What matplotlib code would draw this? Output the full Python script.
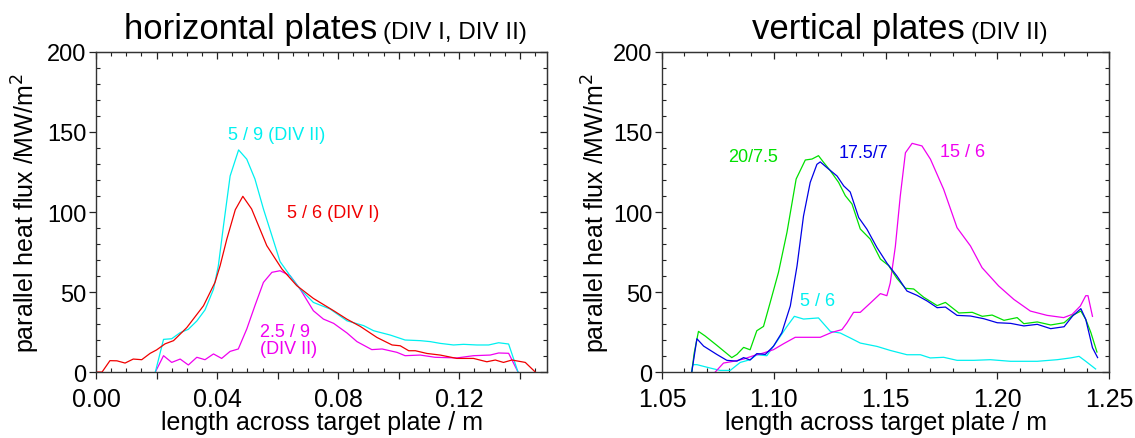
import matplotlib
matplotlib.use("Agg")
import matplotlib.pyplot as plt
from matplotlib.ticker import MultipleLocator, FixedLocator, FuncFormatter
import numpy as np

plt.rcParams['font.family'] = ['Liberation Sans', 'DejaVu Sans']

# ---------------- left panel: horizontal plates ----------------
h_red_x = [0.0, 0.002, 0.0046, 0.0069, 0.0096, 0.0123, 0.0151, 0.0179, 0.020, 0.0228, 0.0256,
           0.030, 0.0355, 0.0393, 0.041, 0.0432, 0.046, 0.0485, 0.0514, 0.0564, 0.0614, 0.0663,
           0.0718, 0.0785, 0.0829, 0.0873, 0.0928, 0.0978, 0.1005, 0.1033, 0.1055, 0.1093,
           0.1137, 0.1192, 0.1247, 0.1291, 0.1319, 0.1346, 0.1374, 0.1418, 0.1451]
h_red_y = [0, 0, 7.1, 7.0, 5.6, 8.1, 7.7, 11.7, 13.8, 17.6, 19.6,
           27.8, 41.4, 56, 66.5, 83, 101.4, 109.8, 101.9, 79, 64.4, 54,
           46, 38.3, 33, 28.5, 21.6, 16.9, 16.4, 13.3, 13.3, 11.6,
           10.6, 8.5, 8.5, 6.4, 7.5, 6.0, 7.5, 6.0, 0]

h_cyan_x = [0.0196, 0.0223, 0.025, 0.0278, 0.0305, 0.0333, 0.036, 0.0388, 0.0404, 0.0421, 0.0443,
            0.0471, 0.0498, 0.0525, 0.0553, 0.0581, 0.0608, 0.0641, 0.0674, 0.0718, 0.0773,
            0.0829, 0.0884, 0.0917, 0.0972, 0.1021, 0.1071, 0.1104, 0.1137, 0.1181, 0.1214,
            0.1258, 0.1297, 0.133, 0.1363, 0.1394]
h_cyan_y = [0, 20.4, 20.8, 24.6, 26.7, 31.9, 38.8, 51.7, 66.3, 91.3, 122.5,
            138.8, 133, 120.6, 101.9, 85.2, 69, 60.2, 51.9, 43.5, 39.4,
            32, 29, 25.8, 23.1, 20, 19.6, 19, 17.9, 16.9, 17.3,
            16.9, 16.9, 18.3, 17.5, 0]

h_mag_x = [0.0196, 0.0223, 0.025, 0.0278, 0.0305, 0.0333, 0.036, 0.0388, 0.0415, 0.0443, 0.047,
           0.0498, 0.0525, 0.0553, 0.0581, 0.0608, 0.0641, 0.0674, 0.0718, 0.0751, 0.0785,
           0.0829, 0.0862, 0.0911, 0.0945, 0.0994, 0.1021, 0.1071, 0.112, 0.1192, 0.1247,
           0.1302, 0.133, 0.1363, 0.1394]
h_mag_y = [0, 10.2, 6.0, 8.1, 4.4, 9.2, 7.7, 11.3, 8.5, 12.9, 14.4,
           26.9, 41.5, 56, 62.3, 63.3, 60.2, 51.9, 38.3, 33.1, 30.4,
           24.4, 19, 14, 14.4, 12.3, 10.2, 10.6, 9.2, 8.8, 10.2,
           10.6, 11.9, 11.7, 0]

# ---------------- right panel: vertical plates ----------------
v_green_x = [1.0633, 1.0644, 1.0663, 1.0693, 1.0745, 1.0812, 1.0835, 1.0865, 1.0894, 1.0924, 1.0954,
             1.0984, 1.1021, 1.1059, 1.110, 1.1141, 1.1171, 1.120, 1.1223, 1.1253, 1.129, 1.132,
             1.135, 1.1387, 1.1432, 1.1477, 1.1514, 1.1551, 1.1589, 1.1626, 1.1671, 1.1731,
             1.1768, 1.1828, 1.1888, 1.1933, 1.1977, 1.2030, 1.2089, 1.2119, 1.2179, 1.2239,
             1.2299, 1.2337, 1.2374, 1.2396, 1.2419, 1.2446]
v_green_y = [0, 12, 25.4, 22.5, 16.7, 9, 11, 15.4, 13.9, 25.8, 28.5,
             43.5, 62.3, 87.3, 120.6, 132.5, 133.1, 135.2, 131, 125.8, 118.5, 110.2,
             105, 89.4, 83, 70.6, 66.5, 58.5, 52.3, 51.9, 46.7, 41.5,
             43.5, 36.9, 37.3, 34.8, 35.6, 32.3, 34, 30.2, 31.3, 29.4,
             30.8, 35.4, 38.1, 32.9, 24.6, 12.5]

v_blue_x = [1.0633, 1.0656, 1.0686, 1.0745, 1.079, 1.0835, 1.0865, 1.0894, 1.0924, 1.0962, 1.0999,
            1.1036, 1.1074, 1.1104, 1.1133, 1.1163, 1.1193, 1.1208, 1.1238, 1.1283, 1.1313,
            1.1342, 1.1380, 1.1417, 1.1462, 1.1507, 1.1551, 1.1596, 1.1641, 1.1686, 1.1731,
            1.1768, 1.1820, 1.1880, 1.1940, 1.2000, 1.2060, 1.2119, 1.2179, 1.2239, 1.2299,
            1.2337, 1.2374, 1.2396, 1.2426, 1.2449]
v_blue_y = [0, 20.8, 16.2, 11, 7.3, 6.8, 9, 7.5, 11.5, 11, 16.2,
            24.6, 41.3, 66.3, 97.5, 118.5, 129.8, 131.3, 127.7, 122.5, 116.3,
            112.5, 96.5, 89.2, 77.7, 67.9, 60, 50.6, 47.9, 44.4, 40.2,
            40.6, 35.4, 35, 33.3, 30.8, 30.4, 28.8, 29.8, 27.1, 28.3,
            35, 39.6, 32.9, 15.2, 9]

v_mag_x = [1.0738, 1.0775, 1.082, 1.0865, 1.0909, 1.0954, 1.0999, 1.1044, 1.1096, 1.1148, 1.1208,
           1.126, 1.1305, 1.1327, 1.1357, 1.1387, 1.1432, 1.1477, 1.1506, 1.1521, 1.1544,
           1.1566, 1.1589, 1.1619, 1.1663, 1.1701, 1.176, 1.182, 1.188, 1.1932, 1.2006,
           1.2074, 1.2148, 1.2223, 1.2297, 1.2335, 1.2372, 1.2396, 1.2406, 1.2426]
v_mag_y = [0, 5.6, 6.7, 8.1, 10.2, 11.9, 14, 17.7, 21.7, 21.7, 21.7,
           24.8, 26.5, 30.6, 37.3, 37.3, 43.1, 49, 47.7, 55.6, 78.5,
           110, 137, 142.9, 141.3, 133, 114.2, 90.2, 78.8, 65.2, 53.8,
           45.4, 38.1, 35.4, 34, 36, 41.3, 47.7, 47.7, 34.8]

v_cyan_x = [1.0633, 1.0637, 1.0656, 1.0715, 1.076, 1.0805, 1.085, 1.0894, 1.0924, 1.0969, 1.1014,
            1.1059, 1.1092, 1.1133, 1.120, 1.1253, 1.1297, 1.1342, 1.1387, 1.1462, 1.1521,
            1.1596, 1.1656, 1.170, 1.176, 1.182, 1.1895, 1.1969, 1.2059, 1.2179, 1.2268,
            1.2328, 1.2366, 1.2396, 1.2440]
v_cyan_y = [0, 4.6, 4.6, 2.5, 1.0, 1.0, 6, 7.7, 10.8, 10.2, 19.2,
            28.5, 34.8, 33.1, 33.8, 25.4, 24.4, 21.3, 18.1, 16, 13.5,
            10.8, 10.8, 8.8, 9.2, 7.3, 7.3, 7.7, 6.7, 6.7, 7.7,
            8.8, 9.8, 6.7, 1.9]

# colours
C_CYAN = '#00F0F0'
C_RED = '#F00000'
C_MAG = '#F000F0'
C_GREEN = '#00E000'
C_BLUE = '#0000E6'

LW = 0.9
ylabel_text = 'parallel heat flux /MW/m$^2$'
xlabel_text = 'length across target plate / m'

fig = plt.figure(figsize=(11.35, 4.39), dpi=100)
axL = fig.add_axes([0.0846, 0.1503, 0.3974, 0.729])
axR = fig.add_axes([0.5833, 0.1503, 0.3938, 0.729])


def style_axes(ax, xmin, xmax, xmajor, xminor, xlabfmt):
    ax.set_ylim(0, 200)
    ax.set_xlim(xmin, xmax)
    ax.yaxis.set_major_locator(MultipleLocator(50))
    ax.yaxis.set_minor_locator(MultipleLocator(10))
    ax.xaxis.set_major_locator(FixedLocator(xmajor))
    ax.xaxis.set_minor_locator(MultipleLocator(xminor))
    ax.xaxis.set_major_formatter(FuncFormatter(xlabfmt))
    ax.tick_params(which='major', direction='out', length=5, width=0.9,
                   labelsize=17, pad=2, colors='#222222', labelcolor='black')
    ax.tick_params(which='minor', direction='in', length=3, width=0.8, colors='#222222')
    ax.tick_params(axis='x', which='major', labelsize=18, pad=6)
    for s in ax.spines.values():
        s.set_color('#333333')
        s.set_linewidth(1.0)
    # top and right ticks (inward)
    sx = ax.secondary_xaxis('top')
    sx.xaxis.set_major_locator(FixedLocator(xmajor))
    sx.xaxis.set_minor_locator(MultipleLocator(xminor))
    sx.tick_params(which='major', direction='in', length=5, width=0.9, labeltop=False, colors='#222222')
    sx.tick_params(which='minor', direction='in', length=3, width=0.8, colors='#222222')
    sx.spines['top'].set_color('#333333')
    sy = ax.secondary_yaxis('right')
    sy.yaxis.set_major_locator(MultipleLocator(50))
    sy.yaxis.set_minor_locator(MultipleLocator(10))
    sy.tick_params(which='major', direction='in', length=5, width=0.9, labelright=False, colors='#222222')
    sy.tick_params(which='minor', direction='in', length=3, width=0.8, colors='#222222')
    sy.spines['right'].set_color('#333333')
    ax.set_xlabel(xlabel_text, fontsize=18, labelpad=-1)
    ax.set_ylabel(ylabel_text, fontsize=18)


def fmt_left(v, pos):
    k = int(round(v / 0.02))
    return f'{v:.2f}' if k % 2 == 0 else ''


def fmt_right(v, pos):
    return f'{v:.2f}'


left_major = [0.0, 0.02, 0.04, 0.06, 0.08, 0.10, 0.12, 0.14]
right_major = [1.05, 1.10, 1.15, 1.20, 1.25]

style_axes(axL, 0.0, 0.149, left_major, 0.005, fmt_left)
style_axes(axR, 1.05, 1.25, right_major, 0.01, fmt_right)
axL.yaxis.set_label_coords(-0.12, 0.5)
axR.yaxis.set_label_coords(-0.112, 0.5)

# lines
axL.plot(h_mag_x, h_mag_y, color=C_MAG, lw=LW)
axL.plot(h_cyan_x, h_cyan_y, color=C_CYAN, lw=LW)
axL.plot(h_red_x, h_red_y, color=C_RED, lw=LW)

axR.plot(v_cyan_x, v_cyan_y, color=C_CYAN, lw=LW)
axR.plot(v_mag_x, v_mag_y, color=C_MAG, lw=LW)
axR.plot(v_green_x, v_green_y, color=C_GREEN, lw=LW)
axR.plot(v_blue_x, v_blue_y, color=C_BLUE, lw=LW)

# annotations
axL.text(0.0595, 148.7, '5 / 9 (DIV II)', color=C_CYAN, fontsize=13, ha='center', va='center')
axL.text(0.0783, 100, '5 / 6 (DIV I)', color=C_RED, fontsize=13, ha='center', va='center')
axL.text(0.0542, 20, '2.5 / 9\n(DIV II)', color=C_MAG, fontsize=13, ha='left', va='center',
         linespacing=1.0)

axR.text(1.0908, 134.4, '20/7.5', color=C_GREEN, fontsize=13, ha='center', va='center')
axR.text(1.1401, 136.9, '17.5/7', color=C_BLUE, fontsize=13, ha='center', va='center')
axR.text(1.1845, 137.5, '15 / 6', color=C_MAG, fontsize=13, ha='center', va='center')
axR.text(1.1195, 44.4, '5 / 6', color=C_CYAN, fontsize=13, ha='center', va='center')

# titles
axL.text(0.623, 1.043, 'horizontal plates', transform=axL.transAxes, fontsize=25,
         ha='right', va='baseline')
axL.text(0.6364, 1.043, '(DIV I, DIV II)', transform=axL.transAxes, fontsize=17.5,
         ha='left', va='baseline')
axR.text(0.678, 1.043, 'vertical plates', transform=axR.transAxes, fontsize=25,
         ha='right', va='baseline')
axR.text(0.691, 1.043, '(DIV II)', transform=axR.transAxes, fontsize=17.5,
         ha='left', va='baseline')

fig.savefig('out.png', dpi=100)
